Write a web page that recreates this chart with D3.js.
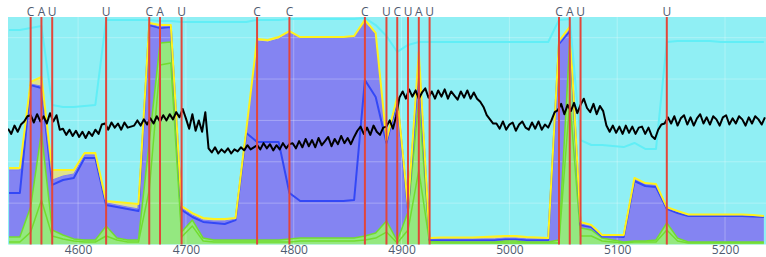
<!DOCTYPE html>
<html>
<head>
<meta charset="utf-8">
<script src="https://cdn.jsdelivr.net/npm/d3@7"></script>
<style>
  body { margin: 0; background: #fff; }
  svg { display: block; font-family: "Open Sans", sans-serif; }
</style>
</head>
<body>
<div id="chart"></div>
<script>
// window positions (every 10 nt)
const positions = [4536, 4546, 4556, 4566, 4576, 4586, 4596, 4606, 4616, 4626,
  4636, 4646, 4656, 4666, 4676, 4686, 4696, 4706, 4716, 4726,
  4736, 4746, 4756, 4766, 4776, 4786, 4796, 4806, 4816, 4826,
  4836, 4846, 4856, 4866, 4876, 4886, 4896, 4906, 4916, 4926,
  4936, 4946, 4956, 4966, 4976, 4986, 4996, 5006, 5016, 5026,
  5036, 5046, 5056, 5066, 5076, 5086, 5096, 5106, 5116, 5126,
  5136, 5146, 5156, 5166, 5176, 5186, 5196, 5206, 5216, 5226, 5236]

// stacked layers, bottom to top
const green1 = [1.2, 1.2, 6.0, 21.5, 4.1, 2.7, 1.7, 1.2, 1.2, 4.1,
  2.2, 1.2, 1.2, 26.4, 86.8, 87.8, 3.6, 8.9, 1.7, 1.2,
  1.2, 1.2, 1.2, 1.2, 1.2, 1.2, 1.2, 1.7, 1.7, 1.7,
  1.7, 1.7, 1.7, 2.2, 3.1, 6.0, 0.7, 7.0, 36.0, 0.7,
  0.7, 0.7, 0.7, 0.7, 0.7, 0.7, 0.7, 0.7, 0.7, 0.7,
  0.7, 0.7, 69.9, 4.1, 4.1, 1.7, 1.2, 0.7, 1.2, 1.2,
  1.2, 7.0, 1.7, 0.7, 0.7, 0.7, 0.7, 0.7, 0.7, 0.7, 0.7]
const green2 = [2.4, 2.4, 12.1, 32.9, 2.9, 1.9, 1.0, 1.0, 1.0, 4.8,
  0.9, 1.0, 1.0, 23.2, 10.6, 10.1, 2.4, 2.9, 1.4, 1.0,
  1.0, 1.0, 1.0, 1.0, 1.0, 1.0, 1.5, 1.4, 1.4, 1.4,
  1.4, 1.4, 1.4, 1.9, 2.5, 5.4, 1.0, 8.7, 33.9, 1.0,
  0.5, 0.5, 0.5, 0.5, 0.5, 0.5, 1.0, 1.0, 0.5, 0.5,
  0.5, 1.5, 29.0, 3.9, 2.9, 1.4, 1.0, 0.5, 0.5, 0.5,
  1.0, 3.4, 1.4, 0.5, 0.5, 0.5, 0.5, 0.5, 0.5, 0.5, 0.5]
const blue = [21.3, 21.3, 59.0, 21.3, 21.8, 26.6, 29.5, 39.6, 39.6, 10.2,
  15.0, 15.0, 14.0, 56.5, 7.3, 7.3, 10.7, 1.5, 7.8, 8.2,
  7.7, 9.6, 51.7, 47.4, 47.4, 47.4, 22.2, 17.9, 17.9, 17.9,
  17.9, 17.9, 18.4, 75.4, 65.7, 37.7, 68.2, 1.0, 18.4, 0.5,
  1.0, 1.0, 1.0, 1.0, 1.0, 1.0, 1.0, 1.0, 1.0, 1.0,
  1.0, 94.8, 4.3, 1.4, 1.5, 0.8, 1.7, 2.4, 29.0, 26.6,
  25.6, 6.8, 12.1, 12.6, 12.6, 12.6, 12.6, 12.6, 12.6, 12.3, 12.1]
const purple = [11.1, 11.1, 0.5, 0.9, 2.4, 1.9, 1.9, 1.5, 1.5, 1.0,
  1.0, 0.9, 1.0, 0.5, 0.5, 0.5, 0.9, 1.0, 0.9, 1.0,
  1.5, 0.5, 1.0, 48.8, 48.3, 49.8, 77.9, 78.9, 78.9, 78.9,
  78.9, 78.9, 78.8, 28.1, 30.0, 0.9, 0.9, 0.9, 2.4, 0.5,
  0.5, 0.5, 0.5, 0.5, 0.5, 0.5, 0.4, 0.4, 0.5, 0.5,
  0.5, 0.4, 1.0, 0.5, 0.4, 0.2, 0.2, 0.5, 1.0, 1.0,
  1.0, 0.4, 0.8, 0.5, 0.5, 0.5, 0.5, 0.5, 0.5, 0.5, 0.5]
const yellow = [1.0, 1.0, 1.0, 4.4, 4.8, 2.9, 1.9, 0.9, 0.9, 0.9,
  1.5, 2.0, 2.4, 0.5, 0.9, 0.4, 1.0, 0.9, 1.0, 0.9,
  0.9, 0.5, 0.5, 1.0, 1.0, 0.9, 0.4, 0.4, 0.4, 0.4,
  0.4, 0.4, 0.5, 1.0, 1.0, 0.5, 0.5, 0.5, 2.4, 0.4,
  0.7, 0.7, 0.7, 0.7, 0.9, 1.2, 1.0, 1.0, 0.9, 0.7,
  0.4, 1.0, 1.0, 1.0, 0.5, 0.5, 0.5, 0.5, 0.5, 0.4,
  0.5, 0.5, 0.2, 0.2, 0.2, 0.2, 0.2, 0.2, 0.2, 0.3, 0.0]
const cyan = [66.7, 66.7, 26.1, 24.7, 31.5, 30.5, 30.5, 22.8, 23.3, 87.6,
  88.0, 88.5, 89.0, 1.5, 2.0, 2.0, 89.0, 92.4, 94.8, 95.3,
  95.3, 94.8, 52.2, 9.2, 9.7, 8.3, 5.8, 8.7, 8.7, 8.7,
  8.7, 8.7, 8.2, 0.9, 3.8, 50.3, 21.8, 78.4, 4.8, 94.8,
  94.5, 94.5, 94.5, 94.5, 94.3, 94.0, 93.8, 93.8, 94.3, 94.5,
  94.8, 10.2, 3.8, 39.6, 38.7, 43.5, 43.0, 42.5, 16.9, 16.5,
  16.9, 79.8, 82.2, 83.9, 83.9, 83.9, 83.4, 83.4, 83.4, 83.6, 84.1]

// per-nucleotide signal, sampled every 3 nt from 4535
const signalStart = 4535
const signalStep = 3
const signal = [56, 53.5, 57.5, 54.5, 58, 59.5, 62,
  62.5, 59, 63, 59.5, 62, 58.5, 63.5, 59.5, 62.5, 55.5,
  56, 53, 55.5, 52.5, 55, 52, 54.5, 51.5, 54.5, 52.5, 55.5, 53.5, 58,
  58.5, 55.5, 59, 56.5, 58.5, 55.5, 59, 56.5, 57,
  57.5, 60, 57.5, 60.5, 58, 61, 58.5, 62, 59.5, 62.5, 60, 63, 60.5, 64, 61.5, 65.5,
  61, 56, 63, 55, 60, 54.5, 64,
  46.5, 44.5, 47, 44, 46, 44.5, 46.5, 44, 46, 45,
  47, 45.5, 48, 46, 47,
  48, 46, 49, 46.5, 48.5, 45.5, 48, 46, 49, 46.5, 48.5,
  49, 46.5, 50, 47, 51, 47.5, 50.5, 47, 51.5, 48, 50, 52, 47.5, 51, 48.5, 52.5, 49, 51.5, 48.5, 52,
  55, 57, 53.5, 56.5, 53, 57.5, 54.5, 53, 56.5,
  57, 60, 56, 62,
  71, 74, 70.5, 75, 71.5, 74.5, 70.5, 73.5, 75.5, 71, 74, 70.5, 74.5, 71.5, 75, 70.5, 74, 72, 70, 74, 71, 74.5, 70.5, 73.5, 70.5,
  69, 66.5, 62.5, 60.5, 58.5,
  58.5, 56, 59.5, 55.5, 58, 59, 55, 58, 59.5, 56.5, 55.5, 59, 56, 59.5, 55.5, 58, 56.5,
  60, 64,
  65, 68, 63, 67.5, 64.5, 68.5, 63.5, 67.5, 70.5, 66, 64, 68, 63, 67, 64.5,
  57.5, 54.5, 57.5, 54, 57, 53.5, 57.5, 54, 57, 53.5, 56.5, 57, 53.5, 56.5, 52.5, 51, 55.5,
  58,
  58.5, 61.5, 58.5, 62, 57.5, 61, 62.5, 58, 61.5, 57.5, 61, 63, 58.5, 61.5, 58, 62,
  60.5, 57.5, 61.5, 62.5, 58, 61, 58.5, 62, 60.5, 57.5, 61.5, 58.5, 62, 60.5, 58, 61.5]

// marked sites
const markPos = [4556, 4566, 4576, 4626, 4666, 4676, 4696, 4766, 4796, 4866,
  4886, 4896, 4906, 4916, 4926, 5046, 5056, 5066, 5146]
const markBase = ['C', 'A', 'U', 'U', 'C', 'A', 'U', 'C', 'C', 'C',
  'U', 'C', 'U', 'A', 'U', 'C', 'A', 'U', 'U']

const xTicks = [4600, 4700, 4800, 4900, 5000, 5100, 5200]
const yGrid = [20, 40, 60, 80, 100]

const keys = ['green1', 'green2', 'blue', 'purple', 'yellow', 'cyan']
const fillColor = {green1: '#94e880', green2: '#94e880', blue: '#8484f2', purple: '#8484f2', yellow: '#dfe28c', cyan: 'none'}
const lineColor = {green1: '#72dc30', green2: '#72dc30', blue: '#3348f6', purple: '#7c7cf2', yellow: '#fff21c', cyan: '#62eef6'}
const lineWidth = {green1: 1.5, green2: 1.5, blue: 2, purple: 1, yellow: 2, cyan: 2}

const width = 766, height = 257
const plot = {left: 8, right: 766, top: 17, bottom: 244.5}

const table = positions.map((p, i) => ({
  pos: p, green1: green1[i], green2: green2[i], blue: blue[i],
  purple: purple[i], yellow: yellow[i], cyan: cyan[i]
}))
const signalData = signal.map((v, i) => ({pos: signalStart + i * signalStep, v: v}))

const x = d3.scaleLinear().domain([4535, 5238]).range([plot.left, plot.right])
const y = d3.scaleLinear().domain([0, 110]).range([plot.bottom, plot.top])

const svg = d3.select('#chart').append('svg')
  .attr('width', width)
  .attr('height', height)

svg.append('clipPath').attr('id', 'plot-area')
  .append('rect')
  .attr('x', plot.left).attr('y', plot.top)
  .attr('width', plot.right - plot.left).attr('height', plot.bottom - plot.top)

// background
svg.append('rect')
  .attr('x', plot.left).attr('y', plot.top)
  .attr('width', plot.right - plot.left).attr('height', plot.bottom - plot.top)
  .attr('fill', '#90eff4')

const fg = svg.append('g').attr('clip-path', 'url(#plot-area)')

const series = d3.stack().keys(keys)(table)

const area = d3.area()
  .x(d => x(d.data.pos))
  .y0(d => y(d[0]))
  .y1(d => y(d[1]))
const topLine = d3.line()
  .x(d => x(d.data.pos))
  .y(d => y(d[1]))

fg.selectAll('.layer').data(series).enter().append('path')
  .attr('class', 'layer')
  .attr('d', area)
  .attr('fill', s => fillColor[s.key])

// grid over the fills, faint
const grid = fg.append('g').attr('class', 'grid')
grid.selectAll('.hgrid').data(yGrid).enter().append('line')
  .attr('x1', plot.left).attr('x2', plot.right)
  .attr('y1', d => y(d)).attr('y2', d => y(d))
  .attr('stroke', '#fff').attr('stroke-opacity', 0.28).attr('stroke-width', 1)
grid.selectAll('.vgrid').data(xTicks).enter().append('line')
  .attr('x1', d => x(d)).attr('x2', d => x(d))
  .attr('y1', plot.top).attr('y2', plot.bottom)
  .attr('stroke', '#fff').attr('stroke-opacity', 0.28).attr('stroke-width', 1)

fg.selectAll('.edge').data(series).enter().append('path')
  .attr('class', 'edge')
  .attr('d', topLine)
  .attr('fill', 'none')
  .attr('stroke', s => lineColor[s.key])
  .attr('stroke-width', s => lineWidth[s.key])
  .attr('stroke-linejoin', 'round')

// signal trace
fg.append('path')
  .datum(signalData)
  .attr('d', d3.line().x(d => x(d.pos)).y(d => y(d.v)))
  .attr('fill', 'none')
  .attr('stroke', '#000')
  .attr('stroke-width', 2)
  .attr('stroke-linejoin', 'round')

// marked sites
svg.selectAll('.mark').data(markPos).enter().append('line')
  .attr('class', 'mark')
  .attr('x1', d => x(d)).attr('x2', d => x(d))
  .attr('y1', plot.top).attr('y2', plot.bottom)
  .attr('stroke', '#e2463a')
  .attr('stroke-width', 2)

svg.selectAll('.mark-label').data(markPos).enter().append('text')
  .attr('class', 'mark-label')
  .attr('x', d => x(d))
  .attr('y', 15.5)
  .attr('text-anchor', 'middle')
  .attr('font-size', 12)
  .attr('fill', '#4f5b70')
  .text((d, i) => markBase[i])

// x axis labels
const axis = svg.append('g')
  .attr('transform', `translate(0, ${plot.bottom})`)
  .call(d3.axisBottom(x).tickValues(xTicks).tickSize(0).tickFormat(d3.format('d')))
axis.select('.domain').remove()
axis.selectAll('.tick text')
  .attr('y', 9.5)
  .attr('dy', 0)
  .attr('font-size', 12)
  .attr('font-family', '"Open Sans", sans-serif')
  .attr('fill', '#4f5b70')
</script>
</body>
</html>
